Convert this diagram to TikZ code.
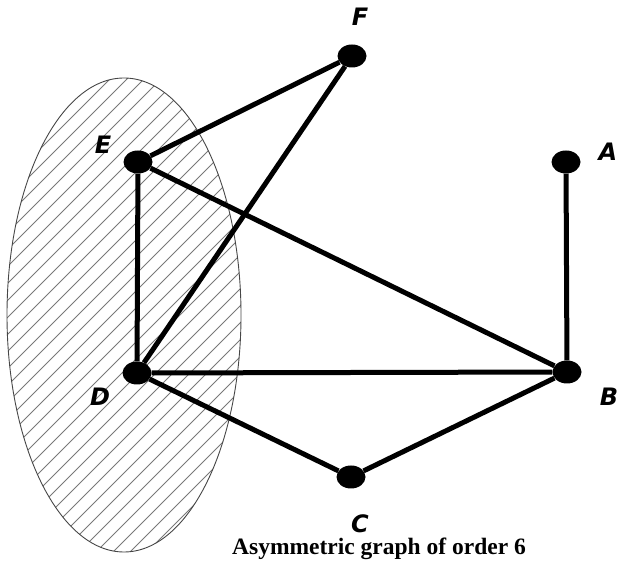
\documentclass[tikz,border=0pt]{standalone}
\usepackage{fontspec}
\setmainfont{Liberation Serif}
\newfontfamily\lblfont{DejaVu Sans}
\usepackage{tikz}
\usetikzlibrary{positioning,shapes.geometric}
\definecolor{grhatch}{RGB}{120,120,120}
\definecolor{grrim}{RGB}{70,70,70}
\tikzset{
  gdot/.style={ellipse, fill=black, draw=none, minimum width=29pt, minimum height=23pt, inner sep=0pt},
  gedge/.style={line width=5pt, draw=black},
  glabel/.style={font=\lblfont\bfseries\itshape\fontsize{24}{24}\selectfont, inner sep=0pt},
  ghatch/.style={draw=grhatch, line width=.9pt}
}
\begin{document}
\begin{tikzpicture}[x=1pt, y=1pt]
  \useasboundingbox (0,0) rectangle (621,570);
  % shaded set
  \begin{scope}
    \clip (124,255) ellipse (117 and 237);
    \foreach \c in {-500,-483,...,250} {
      \draw[ghatch] (\c,0) -- ++(600,600);
    }
  \end{scope}
  \draw[grrim, line width=.9pt] (124,255) ellipse (117 and 237);
  % vertices
  \node[gdot] (F) at (352,514) {};
  \node[gdot] (E) at (138,408) {};
  \node[gdot] (A) at (566,408) {};
  \node[gdot] (D) at (137,197) {};
  \node[gdot] (B) at (567,198) {};
  \node[gdot] (C) at (351,93) {};
  % edges
  \draw[gedge] (F) -- (E);
  \draw[gedge] (F) -- (D);
  \draw[gedge] (E) -- (D);
  \draw[gedge] (E) -- (B);
  \draw[gedge] (D) -- (B);
  \draw[gedge] (D) -- (C);
  \draw[gedge] (C) -- (B);
  \draw[gedge] (A) -- (B);
  % names
  \node[glabel] (lF) at (360,553) {F};
  \node[glabel] (lE) at (103,425) {E};
  \node[glabel] (lA) at (608,418) {A};
  \node[glabel] (lD) at (100,173) {D};
  \node[glabel] (lB) at (609,173) {B};
  \node[glabel] (lC) at (360,46) {C};
  \node[font=\bfseries\fontsize{23.5}{23.5}\selectfont, inner sep=0pt] (cap) at (379,21) {Asymmetric graph of order 6};
\end{tikzpicture}
\end{document}
